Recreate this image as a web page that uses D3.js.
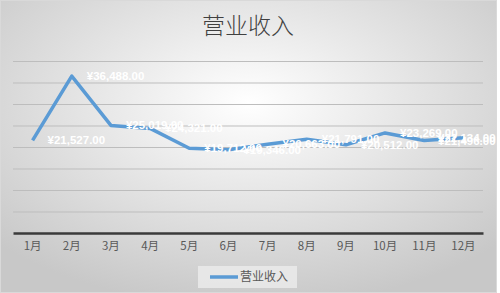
<!DOCTYPE html>
<html>
<head>
<meta charset="utf-8">
<script src="https://cdn.jsdelivr.net/npm/d3@7"></script>
<style>
	body { margin: 0; background: #fff; }
	text { font-family: "Noto Sans CJK SC", "Noto Sans", sans-serif; }
</style>
</head>
<body>
<div id="chart"></div>
<script>
	//Data
	var months = ["1月", "2月", "3月", "4月", "5月", "6月", "7月", "8月", "9月", "10月", "11月", "12月"];
	var revenue = [21527, 36488, 25019, 24321, 19712, 19346, 20663, 21791, 20512, 23269, 21496, 22134];
	var yTicks = [0, 5000, 10000, 15000, 20000, 25000, 30000, 35000, 40000];
	var seriesName = "营业收入";
	var chartTitle = "营业收入";

	///////////////////////////////////////////////////////////////////////////
	//////////////////////////// Set up the svg ///////////////////////////////
	///////////////////////////////////////////////////////////////////////////

	var W = 500, H = 293;
	var margin = { top: 61, right: 17, bottom: 60, left: 13 };
	var width = W - margin.left - margin.right;
	var height = H - margin.top - margin.bottom;

	var svg = d3.select("#chart").append("svg")
		.attr("width", W)
		.attr("height", H);

	var defs = svg.append("defs");
	var bgGradient = defs.append("radialGradient")
		.attr("id", "bg-gradient")
		.attr("cx", "50%").attr("cy", "35%")
		.attr("r", "70%");
	bgGradient.append("stop").attr("offset", "0%").attr("stop-color", "#ffffff");
	bgGradient.append("stop").attr("offset", "100%").attr("stop-color", "#c8c8c8");

	svg.append("rect")
		.attr("x", 0.5).attr("y", 0.5)
		.attr("width", W - 4).attr("height", H - 1)
		.style("fill", "url(#bg-gradient)")
		.style("stroke", "#d9d9d9");

	//Title
	svg.append("text")
		.attr("x", 248)
		.attr("y", 34)
		.attr("text-anchor", "middle")
		.style("font-size", "23px")
		.style("font-weight", 300)
		.style("fill", "#404040")
		.text(chartTitle);

	var g = svg.append("g")
		.attr("transform", "translate(" + margin.left + "," + margin.top + ")");

	///////////////////////////////////////////////////////////////////////////
	//////////////////////////////// Scales ///////////////////////////////////
	///////////////////////////////////////////////////////////////////////////

	var x = d3.scaleBand()
		.domain(months)
		.range([0, width]);

	var y = d3.scaleLinear()
		.domain([0, 40000])
		.range([height, 0]);

	//Gridlines
	g.append("g")
		.call(d3.axisLeft(y).tickValues(yTicks.slice(1)).tickSize(-width).tickFormat(""))
		.call(function(s) {
			s.select(".domain").remove();
			s.selectAll(".tick line").style("stroke", "#bdbdbd").style("stroke-width", 1);
		});

	//X axis
	g.append("g")
		.attr("transform", "translate(0," + height + ")")
		.call(d3.axisBottom(x).tickSize(0).tickPadding(9))
		.call(function(s) {
			s.select(".domain").style("stroke", "#3a3a3a").style("stroke-width", 2.5);
			s.selectAll(".tick text")
				.style("font-size", "11.5px")
				.style("font-family", "'Noto Sans CJK SC', sans-serif")
				.style("fill", "#595959");
		});

	///////////////////////////////////////////////////////////////////////////
	////////////////////////////// Line + labels //////////////////////////////
	///////////////////////////////////////////////////////////////////////////

	var line = d3.line()
		.x(function(d, i) { return x(months[i]) + x.bandwidth() / 2; })
		.y(function(d) { return y(d); });

	g.append("path")
		.datum(revenue)
		.attr("d", line)
		.style("fill", "none")
		.style("stroke", "#5b9bd5")
		.style("stroke-width", 3.5)
		.style("stroke-linejoin", "round");

	var fmt = function(d) { return "¥" + d3.format(",.2f")(d); };

	g.selectAll(".data-label")
		.data(revenue)
		.enter().append("text")
		.attr("class", "data-label")
		.attr("x", function(d, i) {
			var px = x(months[i]) + x.bandwidth() / 2 + 15;
			return Math.min(px, W - margin.left - 62);
		})
		.attr("y", function(d) { return y(d); })
		.attr("dy", "0.35em")
		.style("font-size", "11.5px")
		.style("font-family", "'Liberation Sans', 'Noto Sans', sans-serif")
		.style("font-weight", "bold")
		.style("fill", "#ffffff")
		.text(fmt);

	///////////////////////////////////////////////////////////////////////////
	//////////////////////////////// Legend ///////////////////////////////////
	///////////////////////////////////////////////////////////////////////////

	var legend = svg.append("g").attr("transform", "translate(198,266)");
	legend.append("rect")
		.attr("width", 99).attr("height", 22)
		.style("fill", "#ececec")
		.style("opacity", 0.8);
	legend.append("line")
		.attr("x1", 12).attr("x2", 40)
		.attr("y1", 11).attr("y2", 11)
		.style("stroke", "#5b9bd5")
		.style("stroke-width", 3.5);
	legend.append("text")
		.attr("x", 42).attr("y", 11)
		.attr("dy", "0.35em")
		.style("font-size", "12px")
		.style("fill", "#595959")
		.text(seriesName);
</script>
</body>
</html>
